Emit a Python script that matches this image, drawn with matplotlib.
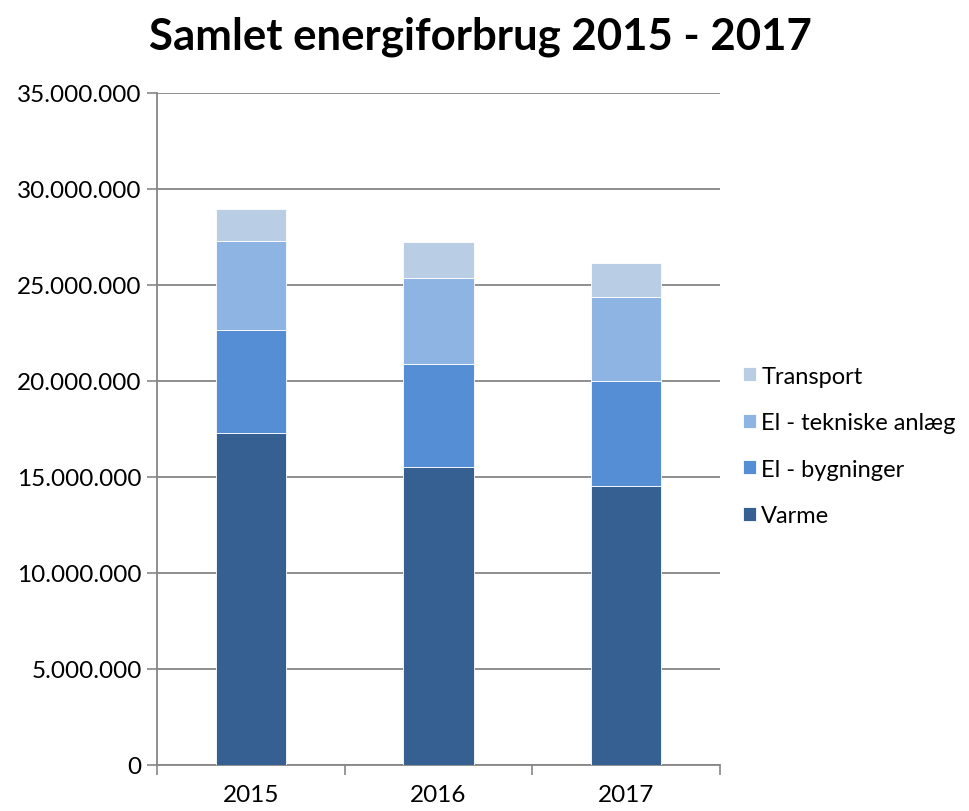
import matplotlib.pyplot as plt
import matplotlib.ticker as mticker
import numpy as np

years = ['2015', '2016', '2017']
varme = [17270000, 15520000, 14550000]
el_bygninger = [5370000, 5340000, 5430000]
el_tekniske = [4630000, 4480000, 4370000]
transport = [1700000, 1900000, 1810000]

series_names = ['Varme', 'El - bygninger', 'El - tekniske anlæg', 'Transport']
colors = ['#376092', '#558ED5', '#8EB4E3', '#B9CDE5']

plt.rcParams['font.family'] = ['Lato', 'DejaVu Sans']

fig = plt.figure(figsize=(9.69, 8.12), dpi=100)
ax = fig.add_axes([157 / 969, 1 - 766 / 812, 563 / 969, 672 / 812])

x = np.arange(len(years))
bottom = np.zeros(len(years))
handles = []
for name, vals, col in zip(series_names, [varme, el_bygninger, el_tekniske, transport], colors):
    b = ax.bar(x, vals, 0.375, bottom=bottom, color=col, label=name,
               edgecolor='white', linewidth=0.6, zorder=3)
    handles.append(b)
    bottom += np.array(vals)

ax.set_xlim(-0.5, 2.5)
ax.set_ylim(0, 35000000)
ax.yaxis.set_major_locator(mticker.MultipleLocator(5000000))
ax.yaxis.set_major_formatter(mticker.FuncFormatter(lambda v, p: f'{int(v):,}'.replace(',', '.')))
ax.set_xticks(x)
ax.set_xticklabels(years)
ax.set_xticks([-0.5, 0.5, 1.5, 2.5], minor=True)
ax.tick_params(axis='x', which='major', length=0, labelsize=17.5, pad=14)
ax.tick_params(axis='x', which='minor', length=7, color='#868686', width=1.2)
ax.tick_params(axis='y', length=7, color='#868686', width=1.2, labelsize=17.5, pad=4)

ax.grid(axis='y', color='#868686', linewidth=1.3, zorder=0)
for s in ['top', 'right']:
    ax.spines[s].set_visible(False)
for s in ['left', 'bottom']:
    ax.spines[s].set_color('#868686')
    ax.spines[s].set_linewidth(1.3)

fig.text(480 / 969, 1 - 37 / 812, 'Samlet energiforbrug 2015 - 2017',
         ha='center', va='center', fontsize=31.5, fontweight='bold')

ax.legend(handles[::-1], series_names[::-1], loc='center left',
          bbox_to_anchor=(1.04, 0.475), frameon=False, fontsize=17,
          handlelength=0.55, handleheight=0.55, handletextpad=0.25,
          labelspacing=1.08, borderaxespad=0, borderpad=0)

fig.savefig('out.png', dpi=100)
plt.close(fig)
